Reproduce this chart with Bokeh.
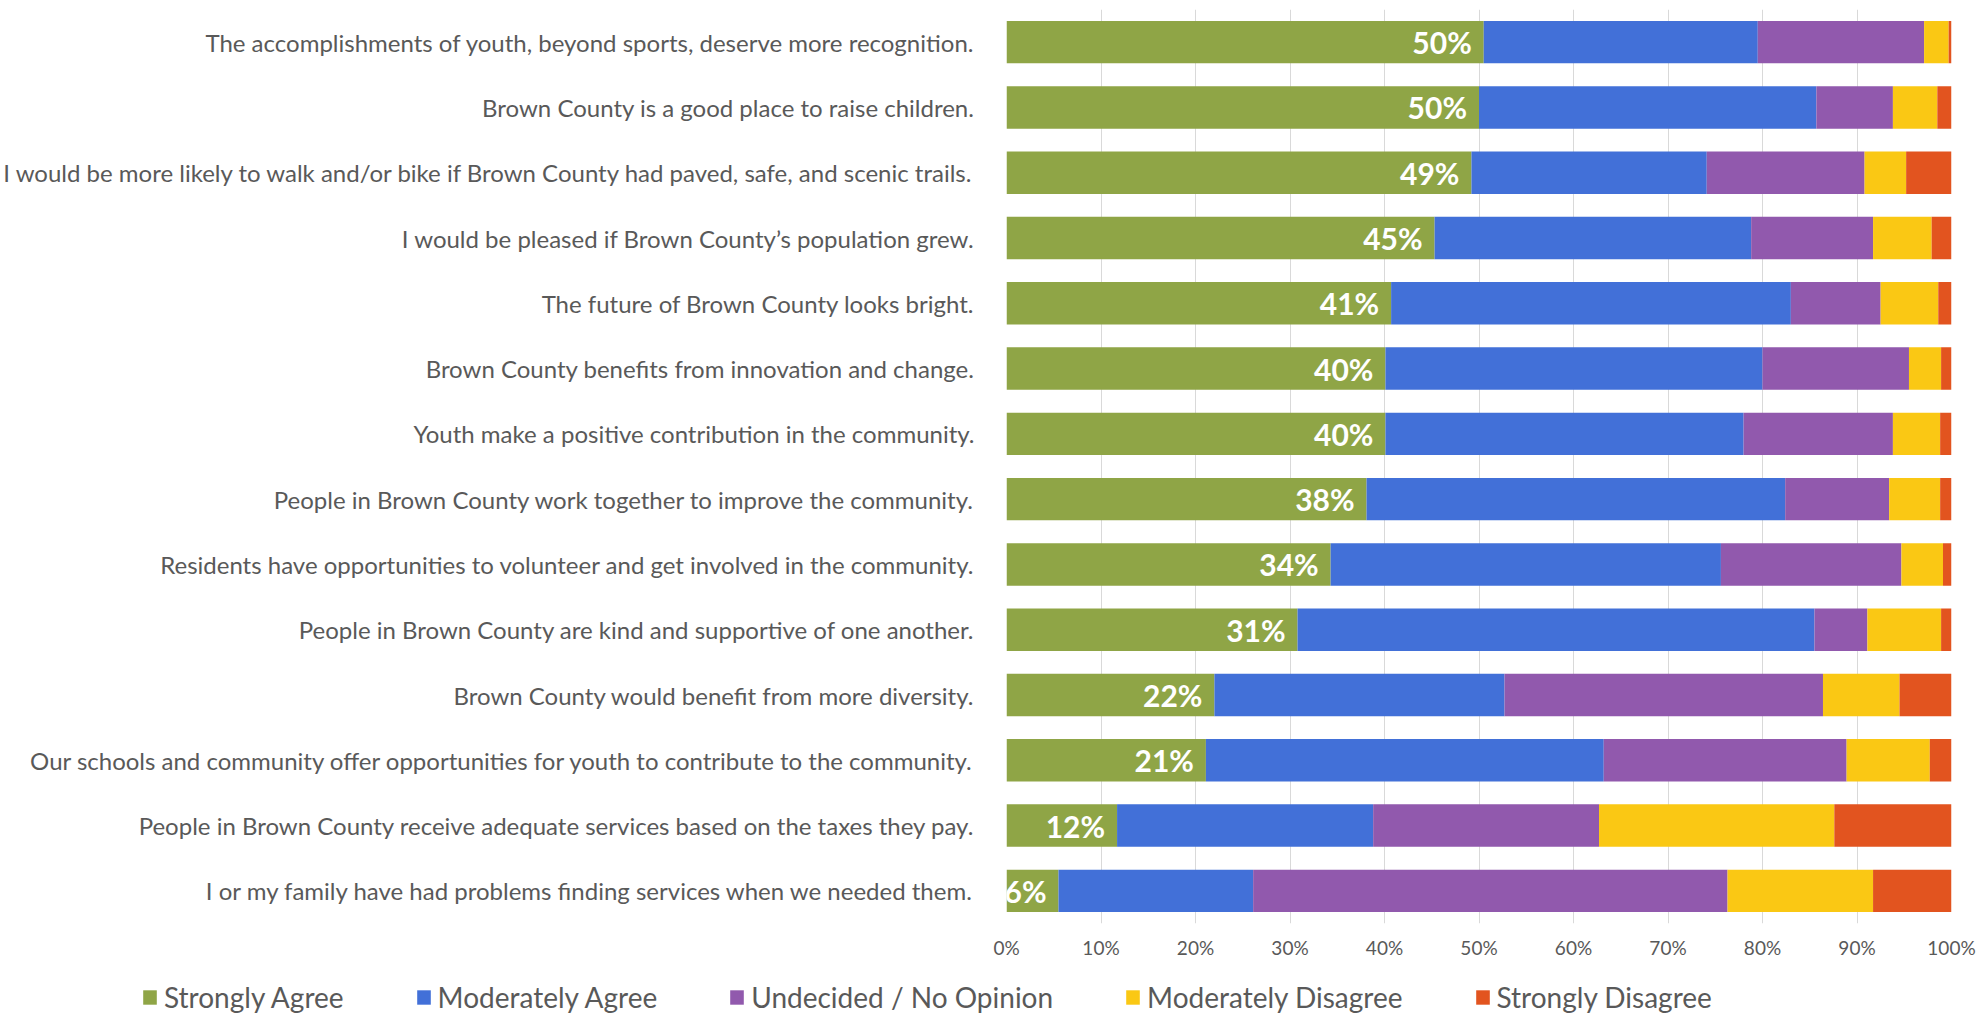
from bokeh.plotting import figure
from bokeh.layouts import column
from bokeh.models import ColumnDataSource, FactorRange, Range1d, Legend, LegendItem, FixedTicker
from bokeh.core.properties import value
from bokeh.embed import file_html
from bokeh.resources import INLINE

statements = [
    "The accomplishments of youth, beyond sports, deserve more recognition.",
    "Brown County is a good place to raise children.",
    "I would be more likely to walk and/or bike if Brown County had paved, safe, and scenic trails.",
    "I would be pleased if Brown County\u2019s population grew.",
    "The future of Brown County looks bright.",
    "Brown County benefits from innovation and change.",
    "Youth make a positive contribution in the community.",
    "People in Brown County work together to improve the community.",
    "Residents have opportunities to volunteer and get involved in the community.",
    "People in Brown County are kind and supportive of one another.",
    "Brown County would benefit from more diversity.",
    "Our schools and community offer opportunities for youth to contribute to the community.",
    "People in Brown County receive adequate services based on the taxes they pay.",
    "I or my family have had problems finding services when we needed them.",
]
strongly_agree = [50.5, 50.0, 49.2, 45.3, 40.7, 40.1, 40.1, 38.1, 34.3, 30.8, 22.0, 21.1, 11.7, 5.5]
moderately_agree = [29.0, 35.7, 24.9, 33.5, 42.3, 39.9, 37.9, 44.3, 41.3, 54.7, 30.7, 42.1, 27.1, 20.6]
undecided = [17.6, 8.1, 16.7, 12.9, 9.5, 15.5, 15.8, 11.0, 19.1, 5.6, 33.7, 25.7, 23.9, 50.2]
moderately_disagree = [2.6, 4.7, 4.4, 6.2, 6.1, 3.4, 5.0, 5.4, 4.4, 7.8, 8.1, 8.8, 24.9, 15.4]
strongly_disagree = [0.3, 1.5, 4.8, 2.1, 1.4, 1.1, 1.2, 1.2, 0.9, 1.1, 5.5, 2.3, 12.4, 8.3]

series_names = ["Strongly Agree", "Moderately Agree", "Undecided / No Opinion",
                "Moderately Disagree", "Strongly Disagree"]
series_keys = ["sa", "ma", "un", "md", "sd"]
colors = ["#8FA546", "#4270D8", "#9159AD", "#FAC814", "#E2541F"]
x_ticks = [0, 10, 20, 30, 40, 50, 60, 70, 80, 90, 100]
x_tick_labels = ["0%", "10%", "20%", "30%", "40%", "50%", "60%", "70%", "80%", "90%", "100%"]

source = ColumnDataSource(data=dict(
    cat=statements,
    sa=strongly_agree,
    ma=moderately_agree,
    un=undecided,
    md=moderately_disagree,
    sd=strongly_disagree,
    lbl=[f"{round(v)}%" for v in strongly_agree],
))

p = figure(
    width=1982, height=966,
    y_range=FactorRange(factors=list(reversed(statements))),
    x_range=Range1d(0, 100),
    output_backend="svg", toolbar_location=None,
    min_border_left=994, min_border_right=31, min_border_top=9, min_border_bottom=43,
)
p.outline_line_color = None
p.background_fill_color = "white"
p.border_fill_color = "white"

renderers = p.hbar_stack(series_keys, y="cat", height=0.65, color=colors,
                         line_color=None, source=source)

p.text(x="sa", y="cat", text="lbl", source=source,
       text_align="right", text_baseline="middle", x_offset=-12,
       text_color="white", text_font=value("Lato"), text_font_style="bold",
       text_font_size="30px")

# axes
p.xaxis.ticker = FixedTicker(ticks=x_ticks)
p.xaxis.major_label_overrides = {t: l for t, l in zip(x_ticks, x_tick_labels)}
p.xaxis.axis_line_color = None
p.xaxis.major_tick_line_color = None
p.xaxis.minor_tick_line_color = None
p.xaxis.major_label_text_font = "Lato"
p.xaxis.major_label_text_font_size = "19px"
p.xaxis.major_label_text_color = "#595959"
p.xaxis.major_label_standoff = 6

p.yaxis.axis_line_color = None
p.yaxis.major_tick_line_color = None
p.yaxis.major_label_text_font = "Lato"
p.yaxis.major_label_text_font_size = "24px"
p.yaxis.major_label_text_color = "#595959"
p.yaxis.major_label_standoff = 26

p.xgrid.grid_line_color = "#D9D9D9"
p.xgrid.grid_line_width = 1
p.ygrid.grid_line_color = None

# legend strip below the chart
lg = figure(
    width=1982, height=48, x_range=Range1d(0, 1), y_range=Range1d(0, 1),
    output_backend="svg", toolbar_location=None,
    x_axis_location=None, y_axis_location=None,
    min_border_left=0, min_border_right=0, min_border_top=0, min_border_bottom=0,
)
if "frame_align" in lg.properties():
    lg.frame_align = False
    p.frame_align = False
lg.outline_line_color = None
lg.grid.grid_line_color = None
lg.background_fill_color = "white"
lg.border_fill_color = "white"
items = []
for name, c in zip(series_names, colors):
    # zero-width bar: only its style is used, by the legend swatch
    r = lg.hbar(y=[0.5], left=[0], right=[0], height=0.5, color=c, line_color=None)
    items.append(LegendItem(label=name, renderers=[r]))
legend = Legend(
    items=items, location=(141, 0), orientation="horizontal",
    border_line_color=None, background_fill_alpha=0,
    padding=0, margin=0, spacing=71, label_standoff=6,
    glyph_width=17, glyph_height=18,
    label_text_font="Lato", label_text_font_size="28px",
    label_text_color="#595959",
)
lg.add_layout(legend, "center")

layout = column(p, lg, spacing=0)
open("out.html", "w").write(file_html(layout, INLINE))
